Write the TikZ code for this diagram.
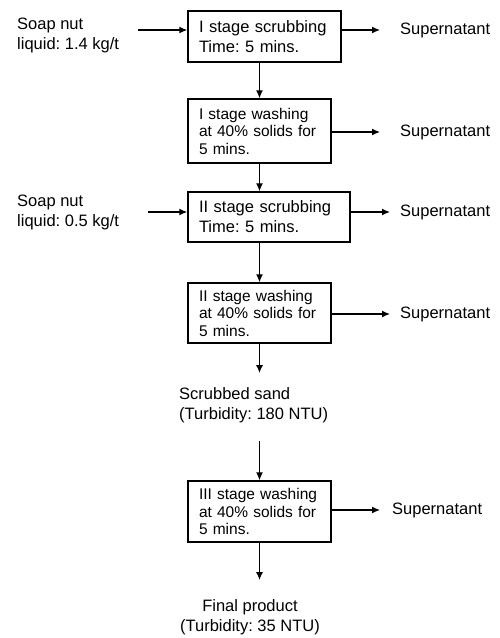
\documentclass[tikz,border=0pt]{standalone}
\usepackage{fontspec}
\setmainfont{Liberation Sans}
\usepackage{tikz}
\usetikzlibrary{arrows.meta,positioning,calc}
\frenchspacing

\begin{document}
\begin{tikzpicture}[
            x=1pt, y=-1pt,
            txt/.style={font=\fontsize{16.5}{20}\selectfont, inner sep=0pt, align=left},
            scrubbox/.style={txt, draw, line width=1.4pt, inner xsep=11pt, align=left, minimum height=#1},
            washbox/.style={draw, line width=1.4pt, inner xsep=11pt, align=left, minimum height=#1,
                font=\fontsize{15.5}{17.5}\selectfont},
            arrow/.style={-{Latex[length=8pt,width=7pt]}, line width=1.3pt}
        ]
            \useasboundingbox (0,0) rectangle (499,638);

            % Process boxes
            \node[scrubbox=51pt, text width=131pt] (scrub1) at (264.5,36.5) {I stage scrubbing\\Time: 5 mins.};
            \node[washbox=64pt, text width=121pt] (wash1) at (259.5,131) {I stage washing\\at 40\% solids for\\5 mins.};
            \node[scrubbox=50pt, text width=140pt] (scrub2) at (269,217) {II stage scrubbing\\Time: 5 mins.};
            \node[washbox=60pt, text width=121pt] (wash2) at (259.5,313) {II stage washing\\at 40\% solids for\\5 mins.};
            \node[washbox=61pt, text width=121pt] (wash3) at (259.5,511.5) {III stage washing\\at 40\% solids for\\5 mins.};

            % Intermediate and final products
            \node[txt, anchor=west] (sand) at (179,405) {Scrubbed sand\\(Turbidity: 180 NTU)};
            \node[txt, align=center] (final) at (250,617) {Final product\\(Turbidity: 35 NTU)};

            % Soap nut feeds
            \node[txt, anchor=west] (feed1) at (17,35) {Soap nut\\liquid: 1.4 kg/t};
            \node[txt, anchor=west] (feed2) at (17,212.5) {Soap nut\\liquid: 0.5 kg/t};
            \coordinate (feed1end) at (138,30);
            \coordinate (feed2end) at (148,212);
            \draw[arrow] (feed1end) -- (feed1end -| scrub1.west);
            \draw[arrow] (feed2end) -- (feed2end -| scrub2.west);

            % Supernatant outputs
            \node[txt, anchor=west] (sup1) at (400,30) {Supernatant};
            \node[txt, anchor=west] (sup2) at (400,132) {Supernatant};
            \node[txt, anchor=west] (sup3) at (400,212) {Supernatant};
            \node[txt, anchor=west] (sup4) at (400,314) {Supernatant};
            \node[txt, anchor=west] (sup5) at (392,510) {Supernatant};
            \draw[arrow, shorten >=20pt] (sup1 -| scrub1.east) -- (sup1.west);
            \draw[arrow, shorten >=20pt] (sup2 -| wash1.east) -- (sup2.west);
            \draw[arrow, shorten >=10pt] (sup3 -| scrub2.east) -- (sup3.west);
            \draw[arrow, shorten >=10pt] (sup4 -| wash2.east) -- (sup4.west);
            \draw[arrow, shorten >=12pt] (sup5 -| wash3.east) -- (sup5.west);

            % Main flow
            \draw[arrow] (scrub1.south -| wash1.north) -- (wash1.north);
            \draw[arrow] (wash1.south) -- (wash1.south |- scrub2.north);
            \draw[arrow] (scrub2.south -| wash2.north) -- (wash2.north);
            \draw[arrow, shorten >=14pt] (wash2.south) -- (wash2.south |- sand.north);
            \draw[arrow, shorten <=18pt] (wash3.north |- sand.south) -- (wash3.north);
            \draw[arrow, shorten >=19pt] (wash3.south) -- (wash3.south |- final.north);
        \end{tikzpicture}
\end{document}
